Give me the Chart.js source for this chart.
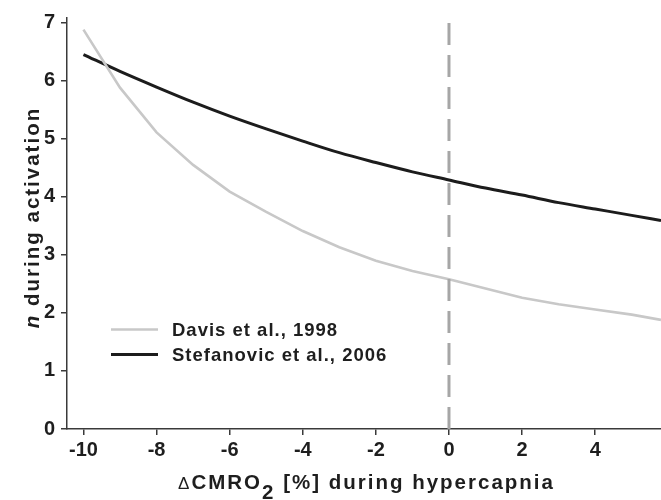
<!DOCTYPE html>
<html>
<head>
<meta charset="utf-8">
<script src="https://cdn.jsdelivr.net/npm/chart.js@4.4.1/dist/chart.umd.min.js"></script>
<style>
  html, body { margin: 0; padding: 0; background: #fff; }
  #wrap { width: 661px; height: 500px; }
</style>
</head>
<body>
<div id="wrap"><canvas id="c" width="661" height="500"></canvas></div>
<script>
// ---- data ----
const xValues    = [-10, -9, -8, -7, -6, -5, -4, -3, -2, -1, 0, 1, 2, 3, 4, 5, 5.8];
const davis      = [6.88, 5.88, 5.11, 4.55, 4.09, 3.74, 3.41, 3.13, 2.90, 2.72, 2.58, 2.42, 2.26, 2.15, 2.06, 1.97, 1.88];
const stefanovic = [6.45, 6.16, 5.89, 5.63, 5.39, 5.17, 4.96, 4.76, 4.59, 4.43, 4.29, 4.15, 4.03, 3.90, 3.79, 3.68, 3.59];
const refLineX   = [0, 0];
const refLineY   = [0, 7];
const seriesLabels = ['Davis et al., 1998', 'Stefanovic et al., 2006'];
const xTicks = [-10, -8, -6, -4, -2, 0, 2, 4];
const yTicks = [0, 1, 2, 3, 4, 5, 6, 7];
const xTitleParts = ['\u0394', 'CMRO', '2', ' [%] during hypercapnia'];
const yTitleParts = ['n', ' during activation'];

const FONT = '"Liberation Sans", Arial, Helvetica, sans-serif';
const TXT = '#1e1e1e';
const AXIS = '#3a3a3a';

function pts(xs, ys) { return xs.map((x, i) => ({ x: x, y: ys[i] })); }

const titlesAndLegend = {
  id: 'titlesAndLegend',
  afterDraw(chart) {
    const ctx = chart.ctx;
    ctx.save();
    ctx.fillStyle = TXT;
    ctx.textBaseline = 'alphabetic';
    // ---- x title ----
    ctx.letterSpacing = '2px';
    const segs = [
      { t: xTitleParts[0], f: '17px ' + FONT, dy: 0 },
      { t: xTitleParts[1], f: 'bold 20.5px ' + FONT, dy: 0 },
      { t: xTitleParts[2], f: 'bold 20.5px ' + FONT, dy: 10 },
      { t: xTitleParts[3], f: 'bold 20.5px ' + FONT, dy: 0 }
    ];
    let total = 0;
    segs.forEach(s => { ctx.font = s.f; s.w = ctx.measureText(s.t).width; total += s.w; });
    let x = 366.5 - total / 2;
    const baseY = 489;
    ctx.textAlign = 'left';
    segs.forEach(s => { ctx.font = s.f; ctx.fillText(s.t, x, baseY + s.dy); x += s.w; });

    // ---- y title (rotated) ----
    ctx.save();
    ctx.translate(39, 217.5);
    ctx.rotate(-Math.PI / 2);
    const ysegs = [
      { t: yTitleParts[0], f: 'italic bold 20.5px ' + FONT },
      { t: yTitleParts[1], f: 'bold 20.5px ' + FONT }
    ];
    let yt = 0;
    ysegs.forEach(s => { ctx.font = s.f; s.w = ctx.measureText(s.t).width; yt += s.w; });
    let px = -yt / 2;
    ysegs.forEach(s => { ctx.font = s.f; ctx.fillText(s.t, px, 0); px += s.w; });
    ctx.restore();

    // ---- legend ----
    ctx.letterSpacing = '1px';
    ctx.font = 'bold 18.5px ' + FONT;
    ctx.textBaseline = 'middle';
    const entries = [chart.data.datasets[1], chart.data.datasets[2]];
    entries.forEach((ds, i) => {
      const ly = 329.5 + i * 25;
      ctx.strokeStyle = ds.borderColor;
      ctx.lineWidth = ds.borderWidth;
      ctx.setLineDash([]);
      ctx.beginPath();
      ctx.moveTo(111, ly);
      ctx.lineTo(158, ly);
      ctx.stroke();
      ctx.fillText(ds.label, 172, ly + 1);
    });
    ctx.restore();
  }
};

new Chart(document.getElementById('c'), {
  type: 'line',
  data: {
    datasets: [
      {
        label: 'zero',
        data: pts(refLineX, refLineY),
        borderColor: '#a6a6a6',
        borderWidth: 3,
        borderDash: [22, 10],
        pointRadius: 0,
        fill: false
      },
      {
        label: seriesLabels[0],
        data: pts(xValues, davis),
        borderColor: '#c8c8c8',
        borderWidth: 2.6,
        pointRadius: 0,
        tension: 0,
        fill: false
      },
      {
        label: seriesLabels[1],
        data: pts(xValues, stefanovic),
        borderColor: '#1c1c1c',
        borderWidth: 3,
        pointRadius: 0,
        cubicInterpolationMode: 'monotone',
        fill: false
      }
    ]
  },
  options: {
    responsive: false,
    animation: false,
    devicePixelRatio: 1,
    layout: { padding: { top: 12, left: 0, right: 0, bottom: 0 } },
    plugins: { legend: { display: false }, tooltip: { enabled: false } },
    scales: {
      x: {
        type: 'linear',
        min: -10.45,
        max: 5.8,
        afterBuildTicks: s => { s.ticks = xTicks.map(v => ({ value: v })); },
        afterFit: s => { s.height = 71; },
        ticks: {
          autoSkip: false, maxRotation: 0, padding: 3, color: TXT,
          font: { family: FONT, size: 20, weight: 'bold' }
        },
        grid: { drawOnChartArea: false, drawTicks: true, tickLength: 6, color: AXIS, lineWidth: 1.5 },
        border: { display: true, color: AXIS, width: 1.5 }
      },
      y: {
        type: 'linear',
        min: 0,
        max: 7.08,
        afterBuildTicks: s => { s.ticks = yTicks.map(v => ({ value: v })); },
        afterFit: s => { s.width = 67; },
        ticks: {
          padding: 6, color: TXT,
          font: { family: FONT, size: 20, weight: 'bold' }
        },
        grid: { drawOnChartArea: false, drawTicks: true, tickLength: 6, color: AXIS, lineWidth: 1.5 },
        border: { display: true, color: AXIS, width: 1.5 }
      }
    }
  },
  plugins: [titlesAndLegend]
});
</script>
</body>
</html>
